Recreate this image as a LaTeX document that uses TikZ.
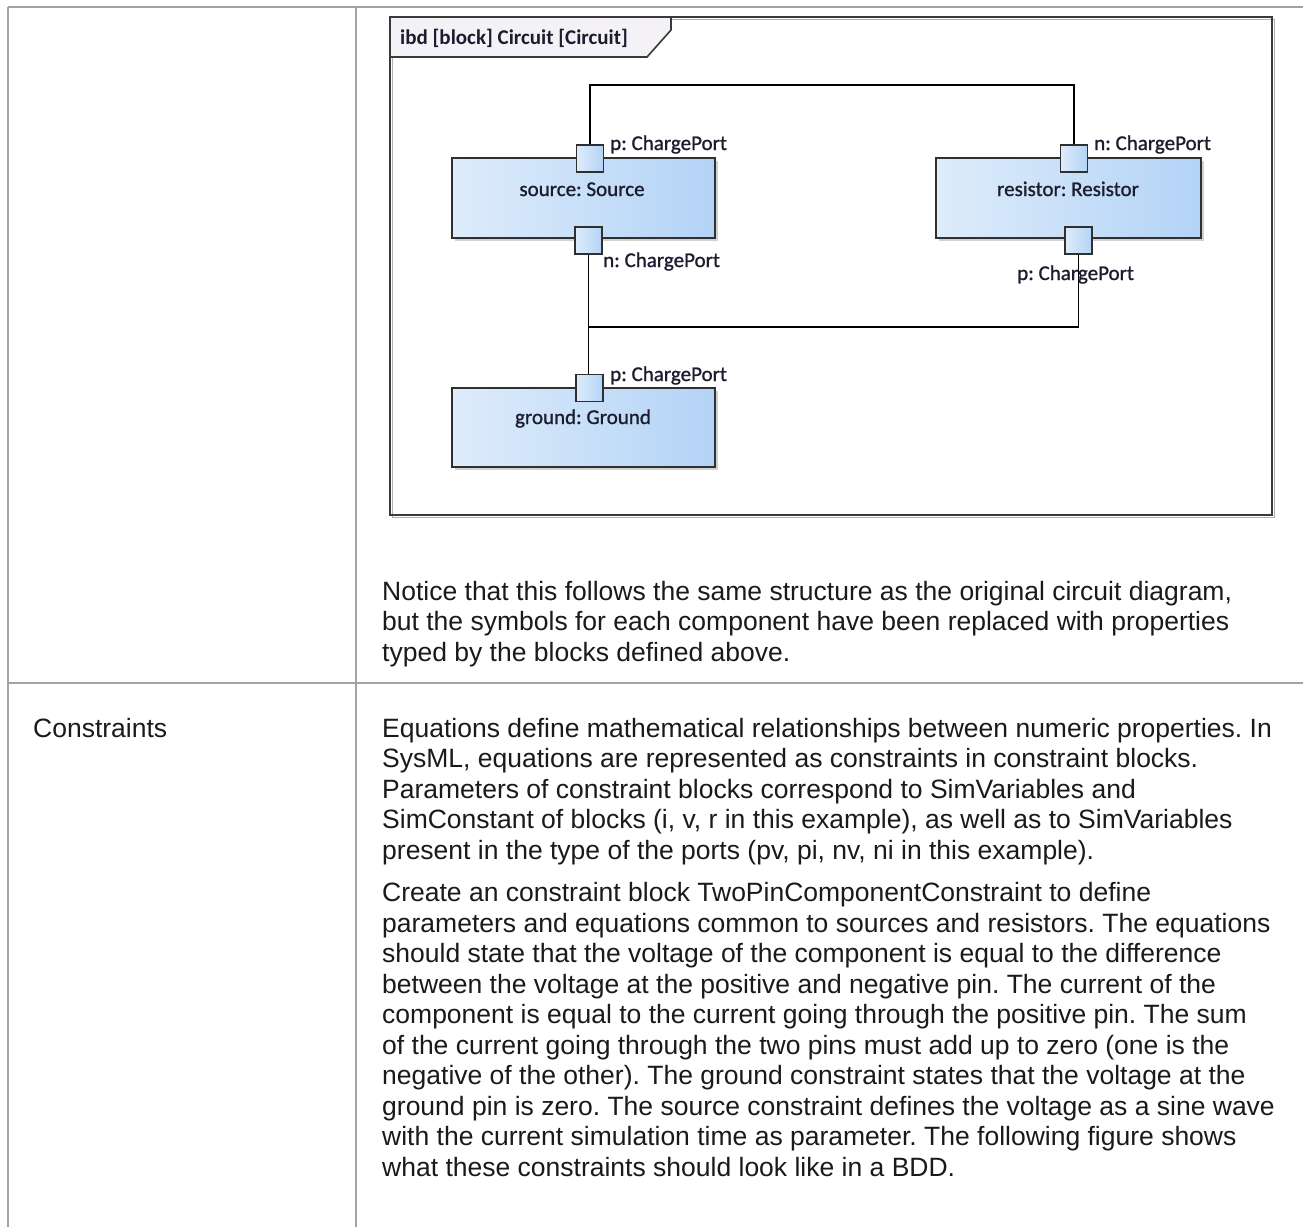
\documentclass[tikz,border=0pt]{standalone}
\usepackage{fontspec}
\setmainfont{Liberation Sans}
\newfontfamily\diagfont{Carlito}[RawFeature={embolden=1.0}]
\newfontfamily\diagboldfont{Carlito Bold}
\usetikzlibrary{shadows}
\frenchspacing

\definecolor{gridgray}{HTML}{A3A3A3}
\definecolor{framedark}{HTML}{3A3A3A}
\definecolor{frameshade}{HTML}{B0B0B0}
\definecolor{tabfill}{HTML}{F5F2F7}
\definecolor{blockedge}{HTML}{303030}
\definecolor{blockleft}{HTML}{DEECFB}
\definecolor{blockright}{HTML}{B3D3F6}
\definecolor{inktext}{HTML}{1A1A1A}
\definecolor{diagink}{HTML}{1C1C2E}

\tikzset{
  grid line/.style={draw=gridgray, line width=1.6pt},
  body/.style={font=\fontsize{26.5}{30.5}\selectfont, text=inktext,
    inner sep=0pt, anchor=base west},
  partbox/.style={draw=blockedge, line width=1.7pt,
    left color=blockleft, right color=blockright,
    drop shadow={shadow xshift=3pt, shadow yshift=-3pt,
      fill=black, opacity=0.18},
    inner sep=0pt},
  portbox/.style={draw=blockedge, line width=1.6pt,
    left color=blockleft, right color=blockright,
    minimum width=27pt, minimum height=27pt, inner sep=0pt},
  partname/.style={font=\diagfont\fontsize{21}{24}\selectfont,
    text=diagink, inner sep=0pt, anchor=base},
  portname/.style={font=\diagfont\fontsize{21}{24}\selectfont,
    text=diagink, inner sep=0pt, anchor=base west},
  wire/.style={draw=black, line width=1.5pt},
}

\begin{document}
\begin{tikzpicture}[x=1pt, y=-1pt]
\useasboundingbox (0,0) rectangle (1303,1227);
\fill[white] (0,0) rectangle (1303,1227);

% table rules
\draw[grid line] (8,7) -- (1303,7);
\draw[grid line] (8,7) -- (8,1227);
\draw[grid line] (356,7) -- (356,1227);
\draw[grid line] (8,683) -- (1303,683);

% diagram frame with its name tab
\draw[frameshade, line width=1.5pt] (392.5,19.5) rectangle (1274.5,517.5);
\draw[framedark, line width=1.8pt] (390,17) rectangle (1272,515);
\draw[framedark, line width=1.6pt, fill=tabfill]
  (390,17) -- (671,17) -- (671,30) -- (647,57) -- (390,57) -- cycle;
\node[font=\diagboldfont\fontsize{21}{24}\selectfont, text=diagink,
  inner sep=0pt, anchor=base west] (frametitle) at (400,44)
  {ibd [block] Circuit [Circuit]};

% parts
\node[partbox, minimum width=263pt, minimum height=80pt] (source) at (583.5,198) {};
\node[partbox, minimum width=265pt, minimum height=80pt] (resistor) at (1068.5,198) {};
\node[partbox, minimum width=263pt, minimum height=79pt] (ground) at (583.5,427.5) {};

\node[partname] (sourcename) at (582,196) {source: Source};
\node[partname] (resistorname) at (1068,196) {resistor: Resistor};
\node[partname] (groundname) at (583,424) {ground: Ground};

% ports
\node[portbox] (srcp) at (590,158.5) {};
\node[portbox] (srcn) at (588.5,240.5) {};
\node[portbox] (resn) at (1074,158.5) {};
\node[portbox] (resp) at (1078.5,240.5) {};
\node[portbox] (gndp) at (589.5,388) {};

\node[portname] (srcplabel) at (610,150) {p: ChargePort};
\node[portname] (srcnlabel) at (603,267) {n: ChargePort};
\node[portname] (resnlabel) at (1094,150) {n: ChargePort};
\node[portname] (resplabel) at (1017,280) {p: ChargePort};
\node[portname] (gndplabel) at (610,381) {p: ChargePort};

% connectors
\coordinate (toprail) at (0,85);
\coordinate (botrail) at (0,327);
\draw[wire] (srcp.north) -- (srcp.north |- toprail) -| (resn.north);
\draw[wire] (srcn.south) -- (srcn.south |- gndp.north);
\draw[wire] (resp.south) |- (srcn.south |- botrail);

% first row, description
\node[body] (noteA) at (382,600)
  {Notice that this follows the same structure as the original circuit diagram,};
\node[body] (noteB) at (382,630.5)
  {but the symbols for each component have been replaced with properties};
\node[body] (noteC) at (382,661) {typed by the blocks defined above.};

% second row
\node[body] (rowhead) at (33,737) {Constraints};

\foreach \ln [count=\i from 0] in {
  {Equations define mathematical relationships between numeric properties. In},
  {SysML, equations are represented as constraints in constraint blocks.},
  {Parameters of constraint blocks correspond to SimVariables and},
  {SimConstant of blocks (i, v, r in this example), as well as to SimVariables},
  {present in the type of the ports (pv, pi, nv, ni in this example).}}
  \node[body] (parA\i) at (382,{737+30.5*\i}) {\ln};

\foreach \ln [count=\i from 0] in {
  {Create an constraint block TwoPinComponentConstraint to define},
  {parameters and equations common to sources and resistors. The equations},
  {should state that the voltage of the component is equal to the difference},
  {between the voltage at the positive and negative pin. The current of the},
  {component is equal to the current going through the positive pin. The sum},
  {of the current going through the two pins must add up to zero (one is the},
  {negative of the other). The ground constraint states that the voltage at the},
  {ground pin is zero. The source constraint defines the voltage as a sine wave},
  {with the current simulation time as parameter. The following figure shows},
  {what these constraints should look like in a BDD.}}
  \node[body] (parB\i) at (382,{901.5+30.5*\i}) {\ln};
\end{tikzpicture}
\end{document}
